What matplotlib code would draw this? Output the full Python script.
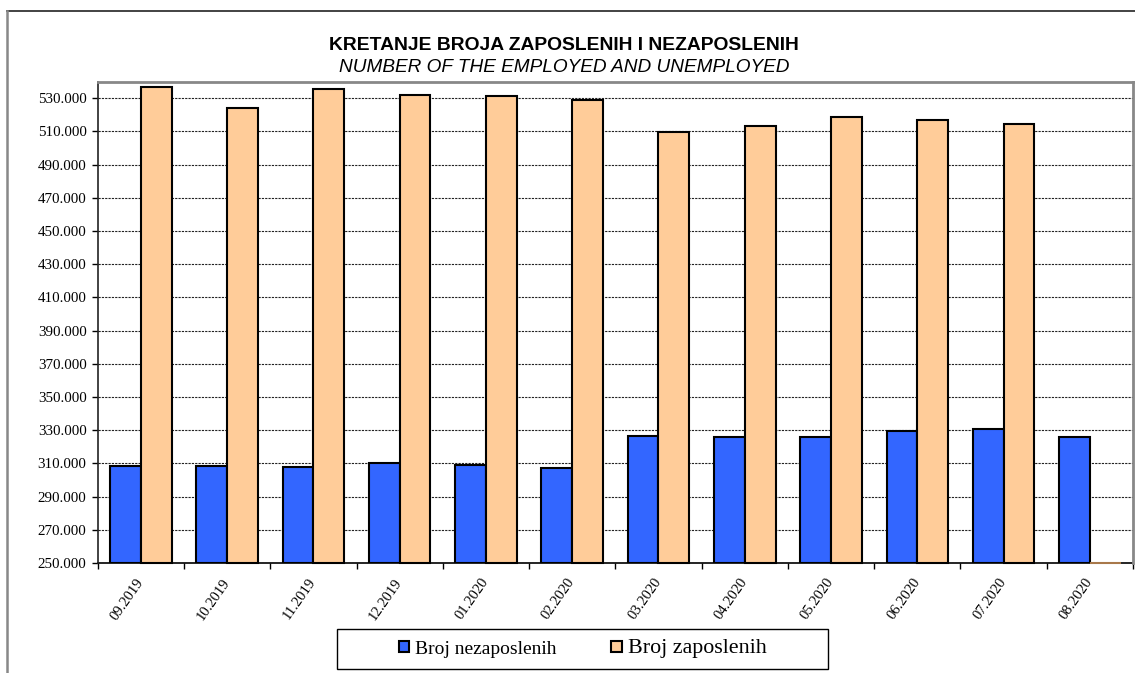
import matplotlib
matplotlib.use("Agg")
import matplotlib.pyplot as plt
import numpy as np
from matplotlib.patches import Rectangle, Patch
from matplotlib.lines import Line2D
from matplotlib.ticker import FuncFormatter, MultipleLocator

months = ['09.2019', '10.2019', '11.2019', '12.2019', '01.2020', '02.2020',
          '03.2020', '04.2020', '05.2020', '06.2020', '07.2020', '08.2020']
unemployed = [308500, 308700, 308100, 310000, 309100, 307150,
              326200, 325900, 325600, 329700, 331000, 325800]
employed = [536700, 524200, 535600, 531800, 531200, 528600,
            509700, 513000, 518600, 517100, 514500, 0]
series_names = ['Broj nezaposlenih', 'Broj zaposlenih']
title1 = 'KRETANJE BROJA ZAPOSLENIH I NEZAPOSLENIH'
title2 = 'NUMBER OF THE EMPLOYED AND UNEMPLOYED'

W, H = 1135, 673
fig = plt.figure(figsize=(W / 100, H / 100), dpi=100)
fig.patch.set_facecolor('white')

def fx(px):
    return px / W

def fy(py):
    return 1 - py / H

left, right, top, bottom = 97.7, 1133, 81.5, 563
ax = fig.add_axes([fx(left), fy(bottom), fx(right - left), fy(top) - fy(bottom)])

ymin, ymax = 250000, 540000
x = np.arange(len(months))
w = 0.357
blue = '#3366FF'
orange = '#FFCC99'

h_u = np.clip(np.array(unemployed) - ymin, 0, None)
h_e = np.clip(np.array(employed) - ymin, 0, None)
ax.bar(x - w / 2, h_u, width=w, bottom=ymin, color=blue, edgecolor='black',
       linewidth=1.5, zorder=3)
edge_e = ['black' if h > 0 else '#A8784A' for h in h_e]
ax.bar(x + w / 2, h_e, width=w, bottom=ymin, color=orange, edgecolor=edge_e,
       linewidth=1.5, zorder=3, clip_on=False)

ax.set_xlim(-0.5, len(months) - 0.5)
ax.set_ylim(ymin, ymax)
ax.yaxis.set_major_locator(MultipleLocator(20000))
ax.yaxis.set_major_formatter(FuncFormatter(lambda v, p: f'{int(v):,}'.replace(',', '.')))
ax.set_yticks(np.arange(250000, 540001, 20000))

ax.set_xticks(np.arange(-0.5, len(months), 1.0))
ax.set_xticklabels([])
ax.set_xticks(x, minor=True)
ax.set_xticklabels(months, minor=True, rotation=55, ha='right', va='center',
                   rotation_mode='anchor', fontsize=10.5, family='Liberation Serif')
ax.tick_params(axis='x', which='minor', length=0, pad=12)
ax.tick_params(axis='x', which='major', length=4, width=1, direction='out')
ax.tick_params(axis='y', length=4, width=1, direction='out', pad=4,
               labelsize=10.8)
for lab in ax.get_yticklabels():
    lab.set_family('Liberation Serif')

ax.grid(axis='y', color='#222222', linestyle=(0, (2, 1)), linewidth=0.8, zorder=0)
ax.set_axisbelow(True)

for s in ['top', 'right']:
    ax.spines[s].set_color('#888888')
    ax.spines[s].set_linewidth(2)
ax.spines['left'].set_color('#222222')
ax.spines['bottom'].set_color('#000000')
ax.spines['left'].set_linewidth(1.2)
ax.spines['bottom'].set_linewidth(1.2)
ax.spines['bottom'].set_zorder(2)

fig.text(fx(564), fy(45), title1, ha='center', va='center', fontsize=13.9,
         fontweight='bold', family='Liberation Sans')
fig.text(fx(564), fy(68), title2, ha='center', va='center', fontsize=13.7,
         style='italic', family='Liberation Sans')

# chart area frame
fig.add_artist(Line2D([fx(7), 1.0], [fy(11), fy(11)], color='#222222', linewidth=1.2))
fig.add_artist(Line2D([fx(7), fx(7)], [fy(11), 0], color='#888888', linewidth=1.8))

# legend
fig.add_artist(Rectangle((fx(337), fy(669)), fx(828 - 337), fy(629) - fy(669),
                         fill=False, edgecolor='black', linewidth=1.0,
                         transform=fig.transFigure))
handles = [Patch(facecolor=blue, edgecolor='black', linewidth=1.5),
           Patch(facecolor=orange, edgecolor='black', linewidth=1.5)]
leg = fig.legend(handles, series_names, loc='center',
                 bbox_to_anchor=(fx(582.5), fy(649)), ncol=2, frameon=False,
                 handlelength=0.55, handleheight=0.55, handletextpad=0.3,
                 columnspacing=2.8, prop={'family': 'Liberation Serif', 'size': 14})
leg.get_texts()[1].set_fontsize(15.8)

fig.savefig('out.png', dpi=100)
